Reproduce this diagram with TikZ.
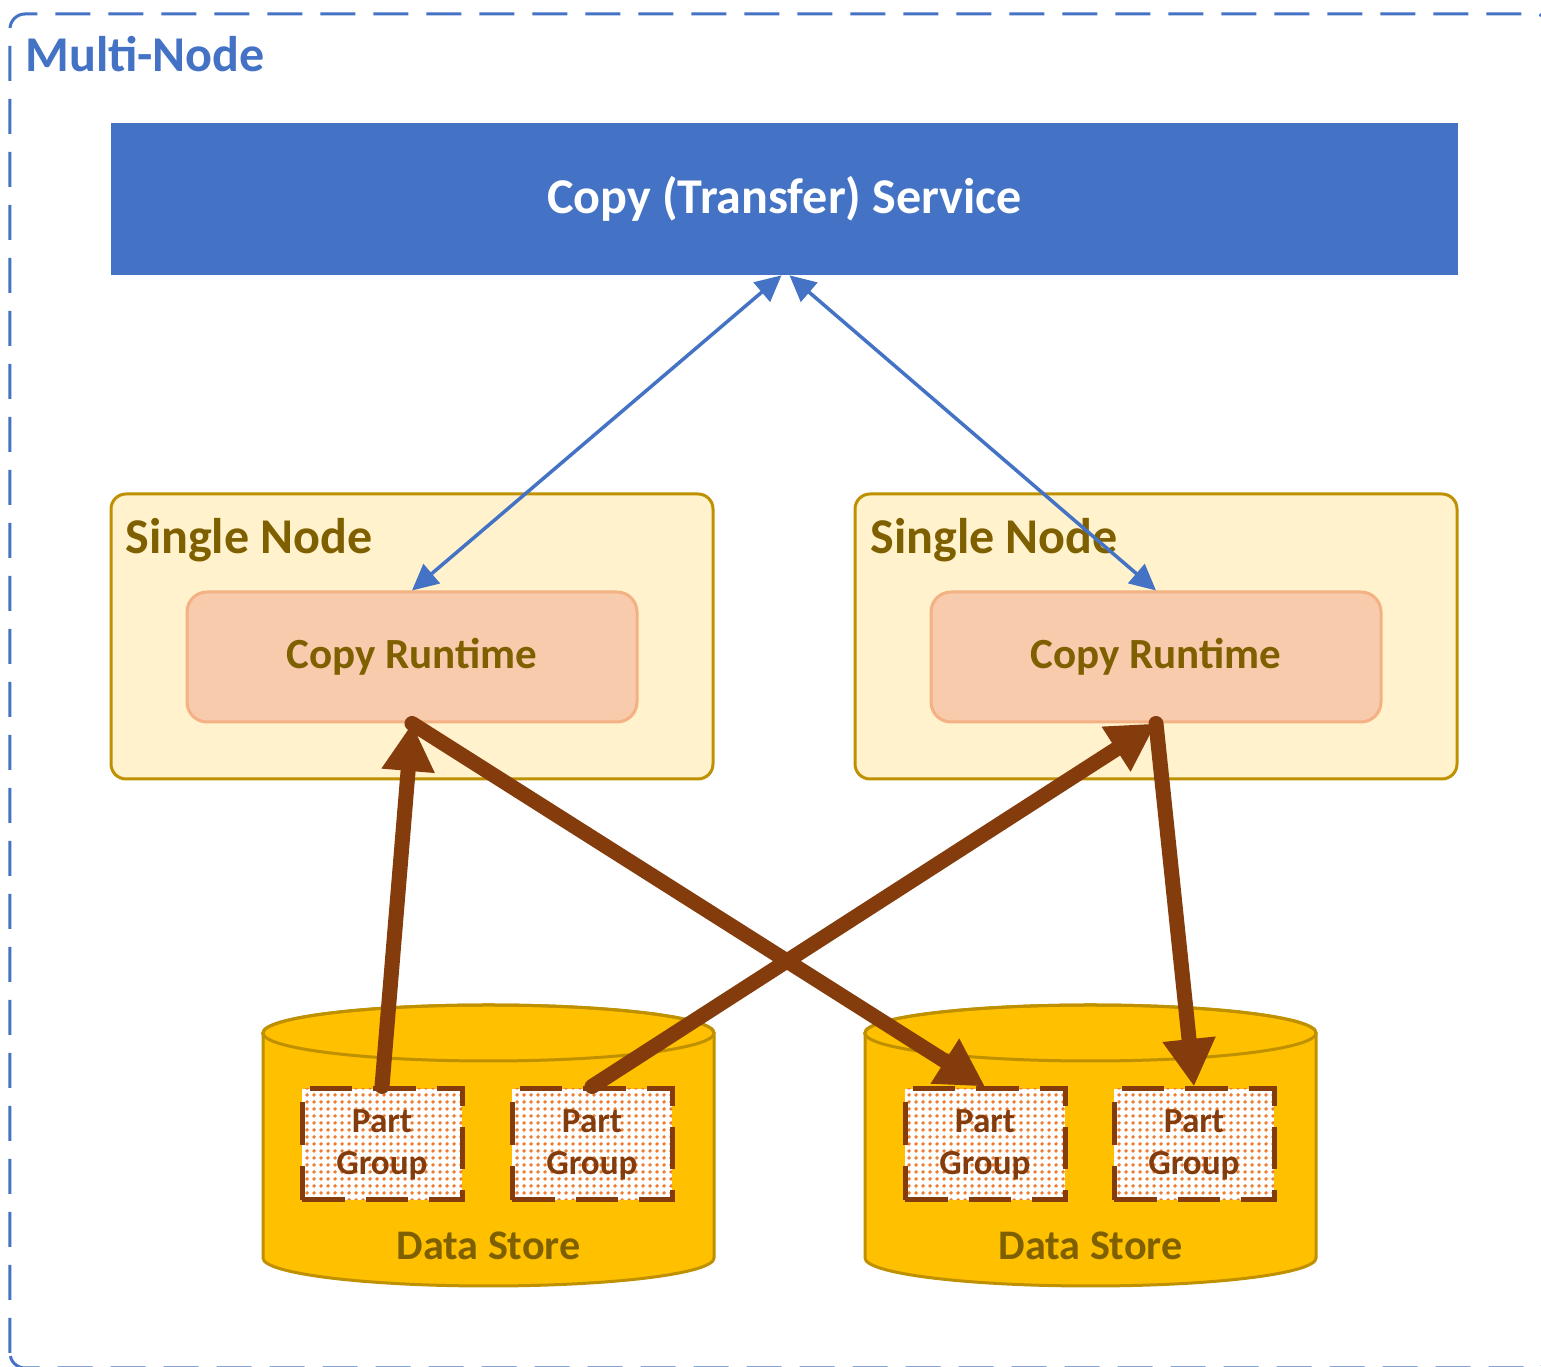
\documentclass[tikz,border=0pt]{standalone}
\usepackage{fontspec}
\setmainfont{Carlito}
\usetikzlibrary{arrows.meta,patterns.meta}
\definecolor{msblue}{HTML}{4472C4}
\definecolor{snfill}{HTML}{FFF2CC}
\definecolor{sndraw}{HTML}{BF9000}
\definecolor{sntext}{HTML}{7F6000}
\definecolor{crfill}{HTML}{F8CBAD}
\definecolor{crdraw}{HTML}{F4B183}
\definecolor{dsfill}{HTML}{FFC000}
\definecolor{pgbrown}{HTML}{843C0C}
\definecolor{pgdots}{HTML}{ED7D31}
\begin{document}
\begin{tikzpicture}[
    outer/.style={draw=msblue, line width=0.06cm, dash pattern=on 0.7cm off 0.36cm, rounded corners=0.3cm},
    mntitle/.style={text=msblue, font=\fontsize{28.5}{34}\selectfont\bfseries, inner sep=0pt, anchor=base west},
    service/.style={fill=msblue, minimum width=26.94cm, minimum height=3.04cm, text=white, font=\fontsize{28.5}{34}\selectfont\bfseries},
    single/.style={fill=snfill, draw=sndraw, line width=0.06cm, rounded corners=0.3cm, minimum width=12.04cm, minimum height=5.7cm},
    sntitle/.style={text=sntext, font=\fontsize{28.5}{34}\selectfont\bfseries, inner sep=0pt, anchor=base west},
    runtime/.style={fill=crfill, draw=crdraw, line width=0.06cm, rounded corners=0.4cm, minimum width=9cm, minimum height=2.6cm, text=sntext, font=\fontsize{24.5}{30}\selectfont\bfseries},
    store/.style={fill=dsfill, draw=sndraw, line width=0.06cm},
    storelabel/.style={text=sntext, font=\fontsize{24}{29}\selectfont\bfseries, inner sep=0pt, anchor=base},
    pgroup/.style={preaction={fill=white}, pattern={Dots[distance=0.14cm, radius=0.045cm]}, pattern color=pgdots, draw=pgbrown, line width=0.1cm, dash pattern=on 0.85cm off 0.42cm, minimum width=3.2cm, minimum height=2.22cm, align=center, text=pgbrown, font=\fontsize{20}{24}\selectfont\bfseries},
    ctrl/.style={draw=msblue, line width=0.07cm, >={Triangle[length=0.52cm, width=0.5cm]}, <->},
    flow/.style={draw=pgbrown, line width=0.3cm, line cap=round, -{Triangle[length=0.95cm, width=1cm]}}]
  \useasboundingbox (0,0) rectangle (30.82,27.34);
  % Multi-node frame
  \draw[outer] (0.2,-0.02) rectangle (31.0,27.06);
  \node[mntitle] (mn) at (0.5,25.9) {Multi-Node};
  % Service
  \node[service] (sv) at (15.69,23.36) {Copy (Transfer) Service};
  % Single nodes
  \node[single] (sn1) at (8.24,14.61) {};
  \node[single] (sn2) at (23.12,14.61) {};
  \node[sntitle] (snt1) at (2.5,16.26) {Single Node};
  \node[sntitle] (snt2) at (17.4,16.26) {Single Node};
  \node[runtime] (cr1) at (8.24,14.2) {Copy Runtime};
  \node[runtime] (cr2) at (23.12,14.2) {Copy Runtime};
  % Data stores
  \foreach \cx/\nm in {9.77/1, 21.81/2} {
    \filldraw[store] (\cx-4.51,6.68) -- (\cx-4.51,2.18)
      arc[start angle=180, end angle=360, x radius=4.51cm, y radius=0.56cm]
      -- (\cx+4.51,6.68)
      arc[start angle=0, end angle=180, x radius=4.51cm, y radius=0.56cm] -- cycle;
    \draw[store, fill=none] (\cx,6.68) ellipse [x radius=4.51cm, y radius=0.56cm];
    \node[storelabel] (dsl\nm) at (\cx,2.14) {Data Store};
  }
  % Part groups
  \node[pgroup] (pg1) at (7.64,4.45) {Part\\Group};
  \node[pgroup] (pg2) at (11.84,4.45) {Part\\Group};
  \node[pgroup] (pg3) at (19.7,4.45) {Part\\Group};
  \node[pgroup] (pg4) at (23.88,4.45) {Part\\Group};
  % Control links
  \draw[ctrl] (cr1.north) -- ([xshift=-0.06cm]sv.south);
  \draw[ctrl] (cr2.north) -- ([xshift=0.1cm]sv.south);
  % Data flows
  \draw[flow] (pg1.north) -- (cr1.south);
  \draw[flow] (cr1.south) -- (pg3.north);
  \draw[flow] (pg2.north) -- (cr2.south);
  \draw[flow] (cr2.south) -- (pg4.north);
\end{tikzpicture}
\end{document}
